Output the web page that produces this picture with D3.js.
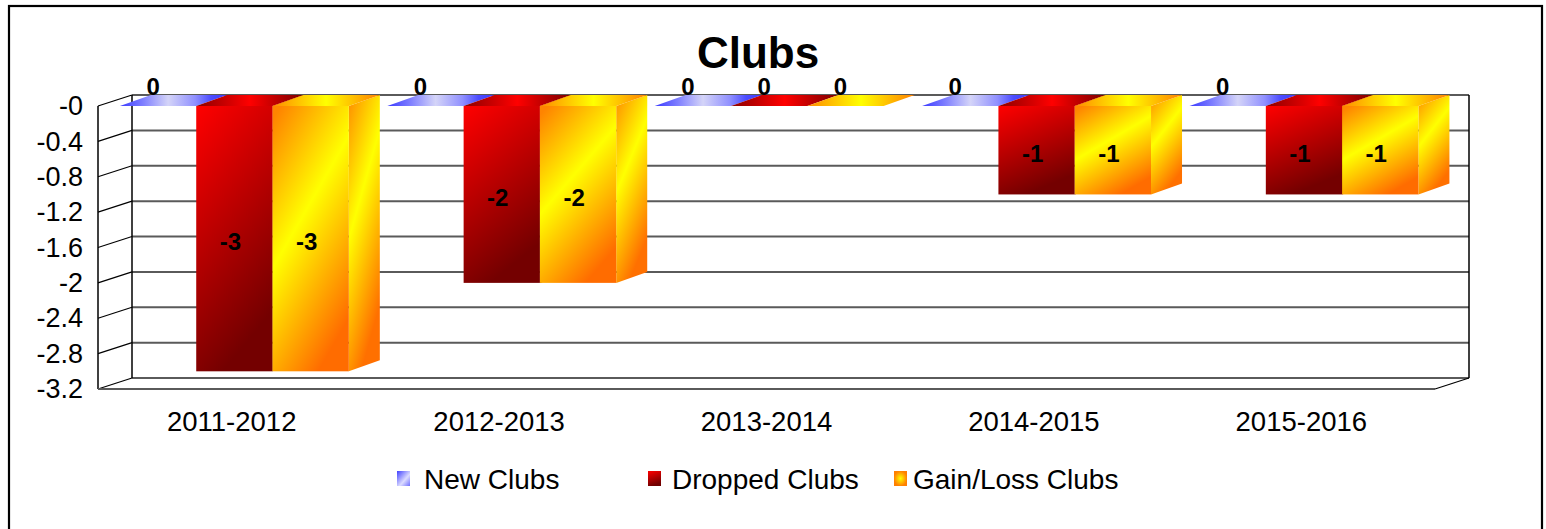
<!DOCTYPE html>
<html lang="en">
<head>
<meta charset="UTF-8">
<title>Clubs</title>
<script src="https://d3js.org/d3.v7.min.js"></script>
<style>
  body { margin: 0; background: #fff; }
  svg text { font-family: "Liberation Sans", Arial, sans-serif; fill: #000; }
</style>
</head>
<body>
<div id="chart"></div>
<script>
// chart data
const categories = ["2011-2012", "2012-2013", "2013-2014", "2014-2015", "2015-2016"];
const seriesNames = ["New Clubs", "Dropped Clubs", "Gain/Loss Clubs"];
const newClubs = [0, 0, 0, 0, 0];
const droppedClubs = [-3, -2, 0, -1, -1];
const gainLossClubs = [-3, -2, 0, -1, -1];
const yTicks = [0, -0.4, -0.8, -1.2, -1.6, -2, -2.4, -2.8, -3.2];
const yTickLabels = ["-0", "-0.4", "-0.8", "-1.2", "-1.6", "-2", "-2.4", "-2.8", "-3.2"];

const seriesValues = [newClubs, droppedClubs, gainLossClubs];

const width = 1546, height = 529;

// front plane of the 3d box and the depth offset to the back wall
const left = 98, right = 1435, yTop = 106, yBottom = 389;
const depthX = 34, depthY = 11;
const barDX = 31, barDY = 11;

const svg = d3.select("#chart").append("svg")
    .attr("width", width)
    .attr("height", height);

const defs = svg.append("defs");

function linGrad(id, x1, y1, x2, y2, stops) {
    const g = defs.append("linearGradient").attr("id", id)
        .attr("x1", x1).attr("y1", y1).attr("x2", x2).attr("y2", y2);
    stops.forEach(s => g.append("stop").attr("offset", s[0]).attr("stop-color", s[1]));
}

// top faces (horizontal sweep)
linGrad("blueTop", 0, 0, 1, 0, [[0, "#3a3aff"], [0.22, "#8080ff"], [0.45, "#d4d4f8"], [0.7, "#9090ff"], [0.85, "#4c4cff"], [1, "#3a3aff"]]);
linGrad("redTop", 0, 0, 1, 0, [[0, "#8a0000"], [0.5, "#ff0000"], [1, "#7a0000"]]);
linGrad("orangeTop", 0, 0, 1, 0, [[0, "#ff8a00"], [0.5, "#ffff00"], [1, "#ff8000"]]);
// front faces
linGrad("blueFront", 0, 0, 1, 1, [[0, "#4646ff"], [0.5, "#d6d6fa"], [1, "#4646ff"]]);
linGrad("redFront", 0, 0, 0.35, 1, [[0, "#ff0000"], [1, "#740000"]]);
linGrad("orangeFront", 0.1, 0, 0.6, 1, [[0, "#ff8400"], [0.45, "#ffff00"], [1, "#ff6c00"]]);
// side faces
linGrad("blueSide", 0, 0, 0, 1, [[0, "#4646ff"], [1, "#2a2ab0"]]);
linGrad("redSide", 0, 0, 0, 1, [[0, "#c00000"], [1, "#600000"]]);
linGrad("orangeSide", 0, 0, 0.4, 1, [[0, "#ff8c00"], [0.45, "#ffff00"], [1, "#ff7000"]]);

// legend markers
linGrad("blueKey", 0, 0, 1, 1, [[0, "#4040ff"], [0.6, "#dcdcff"], [1, "#7070ff"]]);
linGrad("redKey", 0, 0, 0.3, 1, [[0, "#ff0000"], [1, "#700000"]]);
const rk = defs.append("radialGradient").attr("id", "orangeKey");
rk.append("stop").attr("offset", 0).attr("stop-color", "#ffff00");
rk.append("stop").attr("offset", 1).attr("stop-color", "#ff8000");

const faceFill = [
    { top: "url(#blueTop)", front: "url(#blueFront)", side: "url(#blueSide)", key: "url(#blueKey)" },
    { top: "url(#redTop)", front: "url(#redFront)", side: "url(#redSide)", key: "url(#redKey)" },
    { top: "url(#orangeTop)", front: "url(#orangeFront)", side: "url(#orangeSide)", key: "url(#orangeKey)" }
];

// outer frame
svg.append("rect")
    .attr("x", 9).attr("y", 6)
    .attr("width", 1533).attr("height", 540)
    .attr("fill", "none")
    .attr("stroke", "#000")
    .attr("stroke-width", 2.2);

// title
svg.append("text")
    .attr("x", 758).attr("y", 68)
    .attr("text-anchor", "middle")
    .style("font-size", "44px")
    .style("font-weight", "bold")
    .text("Clubs");

// scales
const y = d3.scaleLinear().domain([0, -3.2]).range([yTop, yBottom]);
const x0 = d3.scaleBand().domain(categories).range([left, right]);
const bw = x0.bandwidth();
const x1 = d3.scaleBand().domain(seriesNames).range([0.082 * bw, 0.938 * bw]);
const w = x1.bandwidth();

// walls and gridlines
const walls = svg.append("g");
yTicks.forEach(t => {
    walls.append("line")
        .attr("x1", left + depthX).attr("x2", right + depthX)
        .attr("y1", y(t) - depthY).attr("y2", y(t) - depthY)
        .attr("stroke", "#5a5a5a").attr("stroke-width", 2);
    walls.append("line")
        .attr("x1", left).attr("y1", y(t))
        .attr("x2", left + depthX).attr("y2", y(t) - depthY)
        .attr("stroke", "#000").attr("stroke-width", 1.2);
});
walls.append("line")
    .attr("x1", left + depthX).attr("x2", left + depthX)
    .attr("y1", yTop - depthY).attr("y2", yBottom - depthY)
    .attr("stroke", "#000").attr("stroke-width", 1.5);
walls.append("line")
    .attr("x1", right + depthX).attr("x2", right + depthX)
    .attr("y1", yTop - depthY).attr("y2", yBottom - depthY)
    .attr("stroke", "#000").attr("stroke-width", 1.5);
walls.append("line")
    .attr("x1", left).attr("x2", left)
    .attr("y1", yTop).attr("y2", yBottom)
    .attr("stroke", "#000").attr("stroke-width", 1.5);
walls.append("line")
    .attr("x1", left).attr("x2", right)
    .attr("y1", yBottom).attr("y2", yBottom)
    .attr("stroke", "#5a5a5a").attr("stroke-width", 2);
walls.append("line")
    .attr("x1", right).attr("y1", yBottom)
    .attr("x2", right + depthX).attr("y2", yBottom - depthY)
    .attr("stroke", "#000").attr("stroke-width", 1.2);

// y axis labels
const yAxis = svg.append("g")
    .attr("transform", `translate(${left},0)`)
    .call(d3.axisLeft(y).tickValues(yTicks).tickSize(0).tickPadding(15)
        .tickFormat((d, i) => yTickLabels[i]));
yAxis.select(".domain").remove();
yAxis.selectAll("text")
    .style("font-family", "'Liberation Sans', Arial, sans-serif")
    .style("font-size", "27px")
    .attr("fill", "#000");

// category labels
const xAxis = svg.append("g")
    .attr("transform", `translate(0,${yBottom + 8})`)
    .call(d3.axisBottom(x0).tickSize(0).tickPadding(14));
xAxis.select(".domain").remove();
xAxis.selectAll("text")
    .style("font-family", "'Liberation Sans', Arial, sans-serif")
    .style("font-size", "27.5px")
    .attr("fill", "#000");

// bars
const bars = svg.append("g");
const labels = [];
categories.forEach((cat, ci) => {
    seriesNames.forEach((s, si) => {
        const v = seriesValues[si][ci];
        const bx = x0(cat) + x1(s);
        const y0 = y(0), y1 = y(v);
        const f = faceFill[si];
        const g = bars.append("g");
        if (y1 > y0) {
            g.append("path")
                .attr("d", `M${bx + w},${y0} L${bx + w + barDX},${y0 - barDY} L${bx + w + barDX},${y1 - barDY} L${bx + w},${y1} Z`)
                .attr("fill", f.side);
            g.append("rect")
                .attr("x", bx).attr("y", y0)
                .attr("width", w).attr("height", y1 - y0)
                .attr("fill", f.front);
        }
        g.append("path")
            .attr("d", `M${bx},${y0} L${bx + w},${y0} L${bx + w + barDX},${y0 - barDY} L${bx + barDX},${y0 - barDY} Z`)
            .attr("fill", f.top);
        if (v === 0) {
            labels.push({ x: bx + w / 2 - 5, y: y0 - barDY, text: String(v), base: "auto" });
        } else {
            labels.push({ x: bx + w / 2 - 4, y: (y0 + y1) / 2 + 3, text: String(v), base: "central" });
        }
    });
});

// value labels
svg.append("g").selectAll("text")
    .data(labels)
    .enter().append("text")
    .attr("x", d => d.x)
    .attr("y", d => d.y)
    .attr("text-anchor", "middle")
    .attr("dominant-baseline", d => d.base)
    .style("font-size", "24px")
    .style("font-weight", "bold")
    .text(d => d.text);

// legend
const legendKeyX = [397, 648, 894];
const legendTextX = [424, 672, 913];
const legend = svg.append("g").selectAll("g")
    .data(seriesNames)
    .enter().append("g");

legend.append("rect")
    .attr("x", (d, i) => legendKeyX[i])
    .attr("y", 471)
    .attr("width", 13).attr("height", 15)
    .attr("fill", (d, i) => faceFill[i].key);

legend.append("text")
    .attr("x", (d, i) => legendTextX[i])
    .attr("y", 489)
    .style("font-size", "28px")
    .text(d => d);
</script>
</body>
</html>
